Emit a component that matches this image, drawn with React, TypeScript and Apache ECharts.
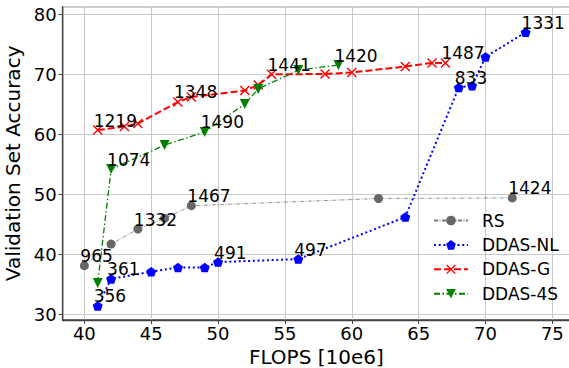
import React, { useEffect, useRef } from 'react';
import * as echarts from 'echarts';

// ---- data ----
const rsFlops = [40, 42, 44, 46, 48, 62, 72];
const rsAcc = [38.1, 41.7, 44.2, 46.0, 48.1, 49.3, 49.4];
const rsNotes = ['965', '', '1332', '', '1467', '', '1424'];

const nlFlops = [41, 42, 45, 47, 49, 50, 56, 64, 68, 69, 70, 73];
const nlAcc = [31.4, 35.9, 37.1, 37.8, 37.8, 38.7, 39.2, 46.2, 67.8, 68.1, 72.9, 77.0];
const nlNotes = ['356', '361', '', '', '', '491', '497', '', '833', '', '', '1331'];

const gFlops = [41, 43, 44, 47, 48, 52, 53, 54, 58, 60, 64, 66, 67];
const gAcc = [60.7, 61.3, 61.8, 65.4, 66.2, 67.3, 68.2, 70.0, 70.05, 70.3, 71.3, 71.9, 71.9];
const gNotes = ['1219', '', '', '1348', '', '', '', '1441', '', '', '', '', '1487'];

const fsFlops = [41, 42, 46, 49, 52, 53, 56, 59];
const fsAcc = [35.2, 54.2, 58.2, 60.4, 65.05, 67.55, 70.7, 71.55];
const fsNotes = ['', '1074', '', '1490', '', '', '', '1420'];

const seriesNames = ['RS', 'DDAS-NL', 'DDAS-G', 'DDAS-4S'];
const xTicks = [40, 45, 50, 55, 60, 65, 70, 75];
const yTicks = [30, 40, 50, 60, 70, 80];

const FONT = 'DejaVu Sans';
const PENTAGON = 'path://M5,0 L9.755,3.455 L7.939,9.045 L2.061,9.045 L0.245,3.455 Z';
const XMARK = 'path://M0,1 L1,0 L10,9 L9,10 Z M9,0 L10,1 L1,10 L0,9 Z';

function buildData(xs: number[], ys: number[], notes: string[]) {
  return xs.map((x, i) => {
    const item: any = { value: [x, ys[i]] };
    if (notes[i]) item.label = { show: true, formatter: notes[i] };
    return item;
  });
}

const baseLabel = {
  show: false,
  position: 'inside',
  align: 'left',
  verticalAlign: 'bottom',
  offset: [-4, -1],
  color: '#000',
  fontSize: 17,
  fontFamily: FONT,
  textBorderWidth: 0,
};

function tickFormatter(ticks: number[]) {
  return (v: number) => (ticks.some((t) => Math.abs(t - v) < 1e-6) ? String(Math.round(v)) : '');
}

export default function App() {
  const ref = useRef<HTMLDivElement>(null);
  useEffect(() => {
    if (!ref.current) return;
    const chart = echarts.init(ref.current, null, { renderer: 'svg' });
    const axisColor = '#444';
    chart.setOption({
      animation: false,
      backgroundColor: '#fff',
      textStyle: { fontFamily: FONT },
      grid: {
        left: 62.7,
        top: 6.7,
        right: -1,
        bottom: 48,
        containLabel: false,
        outerBoundsMode: 'none',
        show: true,
        borderColor: axisColor,
        borderWidth: 1.3,
        backgroundColor: 'transparent',
      },
      legend: {
        data: seriesNames,
        orient: 'vertical',
        left: 433,
        top: 212,
        padding: 0,
        itemWidth: 34,
        itemHeight: 12,
        itemGap: 7.4,
        textStyle: { fontSize: 17, fontFamily: FONT, color: '#000', padding: [0, 0, 0, 9] },
      },
      xAxis: {
        type: 'value',
        min: 38.38,
        max: 76.32,
        splitNumber: 7,
        name: 'FLOPS [10e6]',
        nameLocation: 'middle',
        nameGap: 25,
        nameTextStyle: { fontSize: 20, fontFamily: FONT, color: '#000' },
        axisLine: { show: true, lineStyle: { color: axisColor, width: 1.3 } },
        axisTick: { show: true, length: 4, lineStyle: { color: axisColor } },
        axisLabel: {
          fontSize: 18,
          fontFamily: FONT,
          color: '#000',
          margin: 4,
          showMinLabel: false,
          showMaxLabel: false,
          formatter: tickFormatter(xTicks),
        },
        splitLine: { show: true, lineStyle: { color: '#c8c8c8', width: 1 } },
      },
      yAxis: {
        type: 'value',
        min: 29.05,
        max: 81.27,
        splitNumber: 5,
        name: 'Validation Set Accuracy',
        nameLocation: 'middle',
        nameGap: 34,
        nameTextStyle: { fontSize: 20, fontFamily: FONT, color: '#000' },
        axisLine: { show: true, lineStyle: { color: axisColor, width: 1.3 } },
        axisTick: { show: true, length: 4, lineStyle: { color: axisColor } },
        axisLabel: {
          fontSize: 18,
          fontFamily: FONT,
          color: '#000',
          margin: 6,
          showMinLabel: false,
          showMaxLabel: false,
          formatter: tickFormatter(yTicks),
        },
        splitLine: { show: true, lineStyle: { color: '#c8c8c8', width: 1 } },
      },
      series: [
        {
          name: seriesNames[0],
          type: 'line',
          data: buildData(rsFlops, rsAcc, rsNotes),
          symbol: 'circle',
          symbolSize: 9,
          itemStyle: { color: '#666666' },
          lineStyle: { color: '#777777', width: 0.8, type: [4, 1.5, 1, 1.5] },
          label: baseLabel,
          emphasis: { disabled: true },
        },
        {
          name: seriesNames[1],
          type: 'line',
          data: buildData(nlFlops, nlAcc, nlNotes),
          symbol: PENTAGON,
          symbolKeepAspect: true,
          symbolSize: 10,
          itemStyle: { color: '#0000ff' },
          lineStyle: { color: '#0000ff', width: 2, type: [2, 2.7] },
          label: baseLabel,
          emphasis: { disabled: true },
        },
        {
          name: seriesNames[2],
          type: 'line',
          data: buildData(gFlops, gAcc, gNotes),
          symbol: XMARK,
          symbolKeepAspect: true,
          symbolSize: 10,
          itemStyle: { color: '#ff0000' },
          lineStyle: { color: '#ff0000', width: 2, type: [7, 3] },
          label: baseLabel,
          emphasis: { disabled: true },
        },
        {
          name: seriesNames[3],
          type: 'line',
          data: buildData(fsFlops, fsAcc, fsNotes),
          symbol: 'triangle',
          symbolRotate: 180,
          symbolSize: 10,
          itemStyle: { color: '#008000' },
          lineStyle: { color: '#008000', width: 1.3, type: [6, 2.5, 1.5, 2.5] },
          label: baseLabel,
          emphasis: { disabled: true },
        },
      ],
    });
    return () => chart.dispose();
  }, []);
  return (
    <div
      ref={ref}
      style={{ position: 'fixed', left: 0, top: 0, width: 569, height: 368, background: '#fff' }}
    />
  );
}
